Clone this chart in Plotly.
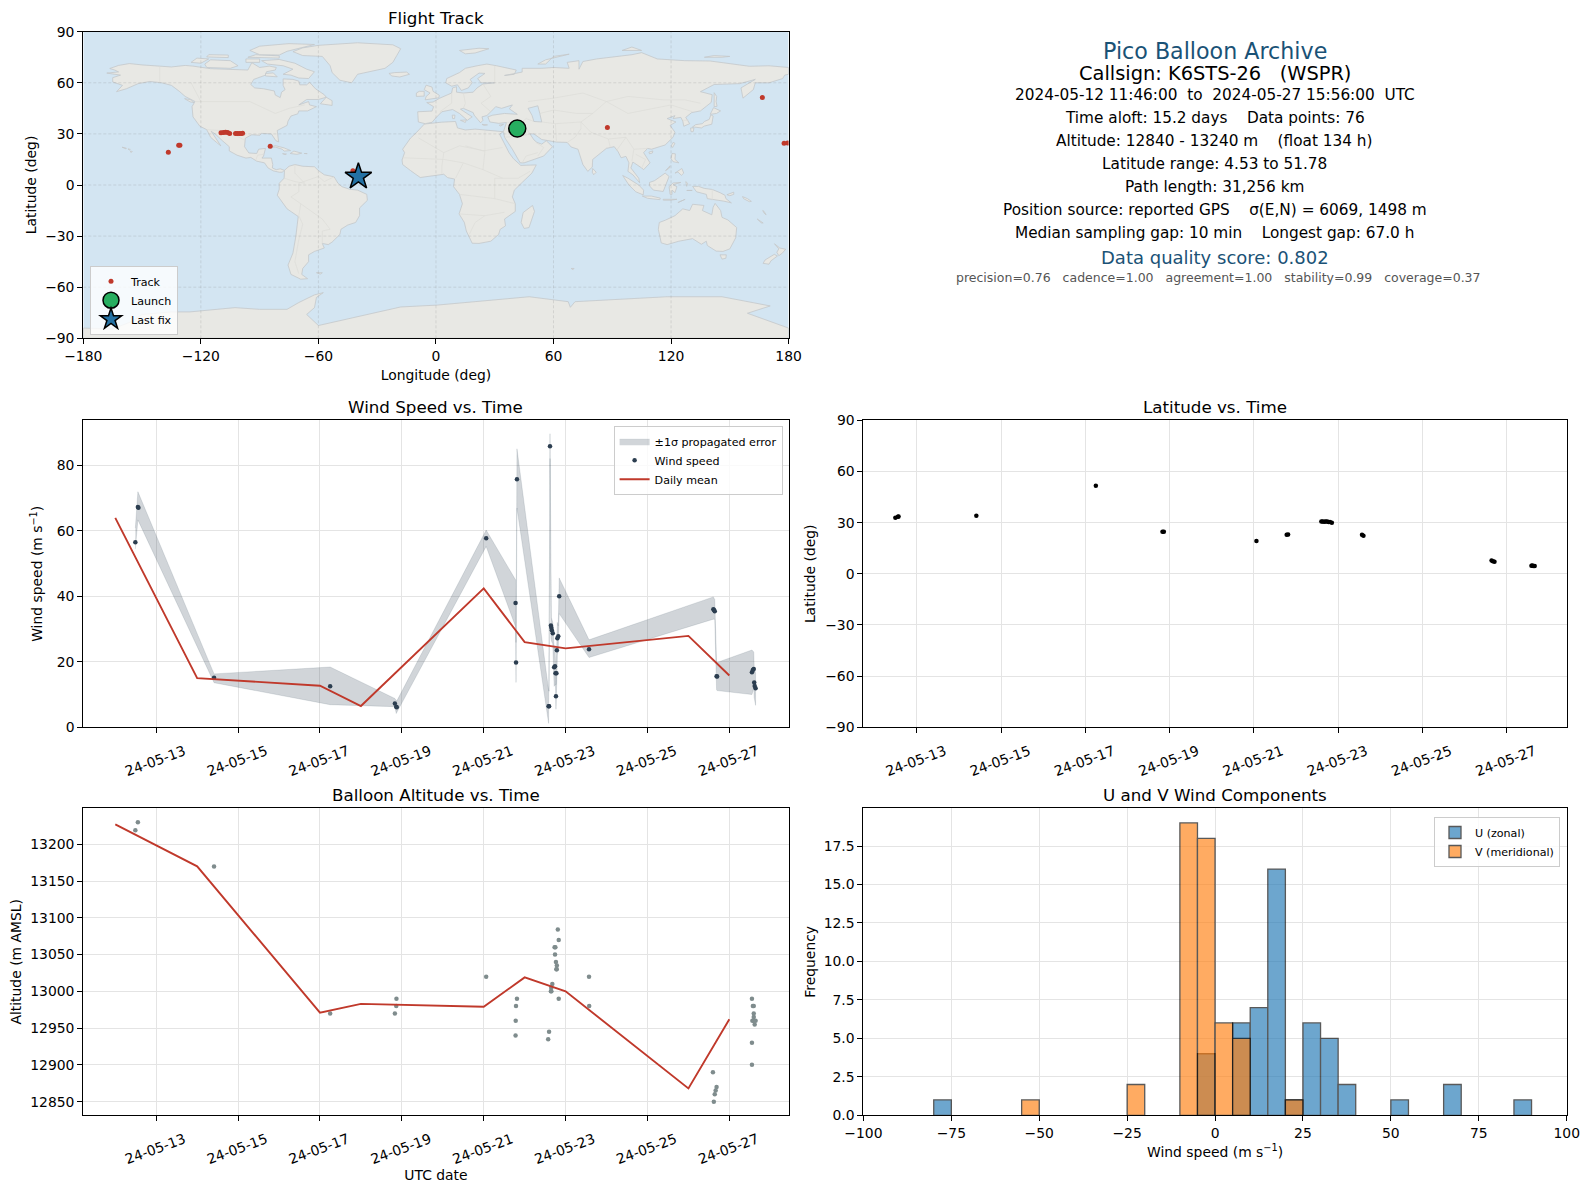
import plotly.graph_objects as go

FIG_W = 1589
FIG_H = 1189

RED = "#c0392b"
NAVY = "#2c3e50"
GRID = "#e4e4e4"
OCEAN = "#d3e5f2"
FONT = "DejaVu Sans"

# flight track
track_lon = [-136.6, -131.3, -130.7, -109.7, -108.5, -107.4, -106.3, -105.3, -102.3, -101.4,
             -100.4, -99.4, -98.7, -84.6, -42.4, 87.5, 166.6, 177.7, 179.5]
track_lat = [19.2, 23.3, 23.3, 30.7, 30.8, 30.9, 30.8, 30.3, 30.3, 30.3,
             30.3, 30.3, 30.4, 22.7, 8.3, 33.8, 51.4, 24.5, 24.7]
launch_lon = [41.5]
launch_lat = [33.2]
last_lon = [-39.6]
last_lat = [4.9]
map_xticks = [-180, -120, -60, 0, 60, 120, 180]
map_yticks = [-90, -60, -30, 0, 30, 60, 90]

# coastlines
north_america = [(-168, 65.7), (-162, 66.4), (-164, 67.5), (-166.5, 68.4), (-162, 70.2), (-156.5, 71.3), (-150, 70.5),
                 (-141, 69.7), (-135, 69.3), (-128, 70.2), (-124, 69.8), (-115, 68.3), (-108, 68), (-101, 68), (-96, 67.5),
                 (-94, 71.8), (-90, 69), (-85, 69.8), (-81.5, 69), (-82, 67.5), (-86.5, 66.5), (-87, 64.5), (-93, 62),
                 (-94.5, 59), (-92.5, 57), (-88, 56.5), (-82.5, 55.2), (-82, 52.8), (-79.5, 51.3), (-78.8, 54.5), (-77, 56),
                 (-78, 58.5), (-78, 62.3), (-73, 62), (-70, 61), (-69.5, 58.8), (-66, 58.8), (-64.5, 60.3), (-61.5, 56.5),
                 (-57, 53), (-56, 51.5), (-60, 50.2), (-66, 50.2), (-70, 47), (-65, 49), (-64.5, 47), (-61, 46), (-65.5, 43.5),
                 (-70, 43.5), (-70.5, 41.8), (-74, 40.5), (-75.5, 37.5), (-76, 35), (-81, 32), (-80.2, 27), (-80.3, 25.3),
                 (-81.7, 26), (-82.8, 28), (-84, 30), (-89, 30.3), (-90, 29.2), (-94, 29.5), (-97.3, 27.5), (-97.7, 22.5),
                 (-95.5, 18.8), (-91.5, 18.5), (-90.5, 21), (-87, 21.5), (-88, 17), (-88.8, 15.8), (-84, 15.8), (-83.3, 12),
                 (-83.5, 10), (-81.5, 9), (-79.5, 9.5), (-77.3, 8.6), (-78.5, 7.5), (-80, 7.5), (-83, 8.3), (-85.7, 10),
                 (-87.5, 13), (-91.5, 14), (-94.5, 16.2), (-97, 15.8), (-101.5, 17.5), (-105.5, 20), (-105.5, 22.5), (-109, 26),
                 (-112.7, 30), (-114.7, 31.5), (-112.8, 28), (-109.8, 23), (-112, 25), (-115, 28), (-117, 32.5), (-120.5, 34.5),
                 (-124, 40), (-124.5, 46), (-123, 49), (-128, 52), (-131, 55), (-135, 58.5), (-140, 60), (-146, 60.8),
                 (-152, 59.5), (-158, 56.5), (-163, 54.8), (-160, 58.5), (-165, 60.5), (-165, 63), (-161, 64.5), (-168, 65.7)]
baffin = [(-80, 73.7), (-72, 71.5), (-66, 68), (-62, 66.5), (-65, 62.5), (-70, 62.8), (-74, 64.5), (-78, 65), (-73, 68), (-78, 70), (-86, 71), (-89, 73), (-80, 73.7)]
victoria = [(-117, 69), (-105, 68.5), (-101, 70), (-105, 73), (-115, 73.5), (-118, 71), (-117, 69)]
banks = [(-125, 72), (-120, 71.5), (-116, 74), (-122, 74.5), (-125, 72)]
melville = [(-117, 75.2), (-106, 74.8), (-106, 76.3), (-116, 76.5), (-117, 75.2)]
somerset = [(-97, 72), (-90, 72), (-90, 74), (-97, 74), (-97, 72)]
southampton = [(-87, 64), (-81, 63.5), (-83, 65.8), (-87, 65.5), (-87, 64)]
devon = [(-96, 75), (-80, 74.5), (-80, 75.8), (-92, 76.5), (-96, 75)]
ellesmere = [(-90, 76.5), (-80, 76.3), (-76, 78.5), (-68, 81), (-62, 82.5), (-75, 83), (-90, 81.5), (-95, 79), (-90, 76.5)]
newfoundland = [(-59, 47.7), (-53, 46.7), (-53, 49.5), (-56, 51.5), (-59, 47.7)]
vancouver_isl = [(-128.3, 50.7), (-125, 50), (-123.5, 48.4), (-125.5, 48.8), (-128.3, 50.7)]
greenland = [(-73, 78.3), (-68, 80.5), (-60, 82), (-40, 83.5), (-22, 82.3), (-18, 80), (-20, 76), (-22, 72), (-26, 68.5), (-33, 66.8),
             (-40, 65), (-43, 60), (-49, 61.5), (-53, 66), (-54, 70), (-58, 75.5), (-68, 76), (-73, 78.3)]
cuba = [(-85, 21.9), (-82, 23.1), (-77.5, 21.8), (-74.2, 20.2), (-77.5, 19.9), (-78.5, 21), (-82, 22.3), (-85, 21.9)]
hispaniola = [(-74.4, 18.5), (-72.5, 19.9), (-68.5, 18.7), (-71, 18), (-74.4, 18.5)]
jamaica = [(-78.3, 18.4), (-76.3, 18.2), (-77, 17.8), (-78.3, 18.4)]
puerto_rico = [(-67.2, 18.5), (-65.7, 18.4), (-66.2, 18), (-67.2, 18.5)]
hawaii = [(-156, 19.9), (-155, 19.7), (-155.6, 19), (-156, 19.9)]
maui = [(-157.2, 21.2), (-156, 20.9), (-156.5, 20.5), (-157.2, 21.2)]
oahu = [(-160.2, 22.2), (-158, 21.6), (-158.2, 21.2), (-159.5, 21.9), (-160.2, 22.2)]
south_america = [(-77.3, 8.6), (-75, 11), (-72, 12), (-68, 11), (-62, 10.7), (-60, 8.5), (-57, 6), (-52, 4.8), (-50, 1), (-48, -1), (-44, -2.5),
                 (-40, -3), (-35.3, -5.5), (-35, -9), (-39, -13.5), (-39, -18), (-41, -22), (-45, -23.5), (-48.5, -26), (-49, -29),
                 (-53, -33.5), (-55, -35), (-58, -34.3), (-57, -37), (-62, -39), (-65, -41), (-65, -45), (-68, -49), (-68.5, -52.5),
                 (-65.5, -55), (-69, -55.3), (-74, -52.5), (-75.5, -47), (-73, -40), (-71.5, -30), (-70.3, -18.5), (-76, -14), (-81, -6),
                 (-80, -2.5), (-80, 1), (-77.5, 4), (-77.5, 7), (-77.3, 8.6)]
falklands = [(-61, -51.5), (-58, -51.5), (-59, -52.3), (-61, -51.5)]
africa = [(-5.9, 35.8), (3, 36.9), (10, 37.3), (11, 33.5), (15, 32.3), (20, 32.8), (23, 32.5), (32, 31.2), (34.3, 31.3), (32.5, 29.8),
          (35, 24), (37.3, 19), (39.5, 15.5), (43.3, 11.5), (51.2, 11.8), (49, 7), (44, 1.5), (40, -3), (39, -7), (40.5, -11),
          (40.5, -15.5), (35, -20), (35.5, -24), (32.8, -26), (32, -29), (28, -33), (22, -34.3), (18.5, -34.2), (15.5, -27), (14.5, -22),
          (11.8, -17), (13.5, -11), (12, -5.5), (9, -1), (9.5, 3.5), (6, 4.3), (4, 6.3), (-4, 5.2), (-8, 4.4), (-13, 8.5), (-17, 12),
          (-17.3, 14.7), (-16, 19), (-17, 21), (-13, 27.5), (-9.8, 31), (-5.9, 35.8)]
madagascar = [(49.3, -12), (50.3, -15.5), (47.5, -25), (45, -25.5), (43.5, -22), (44.5, -16.2), (49.3, -12)]
eurasia = [(-9, 37), (-9.3, 43), (-2, 43.4), (-1.2, 46), (-4.7, 48.4), (-1.5, 48.7), (2, 51), (4, 52), (8, 54), (8.5, 57), (10.5, 57.7),
           (10.5, 54.5), (14, 54), (19, 54.5), (21, 57), (24, 59.3), (30, 60), (23, 60), (21.3, 62.5), (25, 65.5), (22, 65.7), (17.5, 62),
           (18.5, 60), (16.5, 57), (13, 55.5), (11, 58.8), (8, 58), (5, 60), (5.5, 62.5), (12, 66), (15, 68.5), (21, 70), (26, 71), (31, 70),
           (41, 67.5), (40, 65), (35, 64.3), (44, 66.3), (44, 68.5), (54, 68.5), (60, 69), (68, 68.5), (67, 72), (73, 73), (73, 68), (75, 72.5),
           (82, 74), (100, 76.5), (105, 77.7), (113, 74), (127, 73), (140, 72.8), (160, 69.7), (170, 70), (180, 69), (180, 65), (178, 64.5),
           (177, 62.5), (170, 60), (163, 60), (162, 56), (156.7, 51), (155.7, 57), (163, 62), (155, 59.5), (142, 59), (135, 54.8), (141, 53),
           (140.5, 48.5), (135, 43.5), (130.5, 42.5), (127.5, 39.7), (129.5, 36), (126.5, 34.5), (126, 37.5), (125, 39.7), (121, 39), (122, 40.7),
           (118, 39), (122.5, 37), (119.5, 35), (122, 31), (121, 28), (117, 23.5), (110, 21), (108, 21.5), (106, 19), (109.3, 13), (106, 9),
           (105, 10), (100.5, 13.5), (99.5, 10), (103.5, 4), (104, 1.3), (100.5, 6), (98, 8), (98.5, 13), (97, 16.8), (94.5, 16), (93, 19.5),
           (91, 22.5), (87, 21.5), (82.5, 17), (80, 15), (79.8, 10.5), (77.5, 8), (75, 12), (72.8, 19), (72.5, 21), (69, 22.3), (67, 25),
           (61.5, 25.2), (57, 26), (54, 26.7), (50, 30), (48, 30), (50, 26.5), (51.5, 25), (54, 24), (56.3, 26), (59.5, 22.5), (55, 17), (45, 13),
           (43, 13), (39, 21), (35, 28), (34.5, 31.5), (36, 36.7), (32, 36.2), (27.5, 37), (26.5, 40), (29, 41), (35, 42), (41.5, 41.5),
           (37.5, 44.7), (39, 47), (33.5, 45), (30.5, 46), (28, 43), (26, 40.8), (23.5, 40), (24, 38), (22.8, 36.5), (19.5, 41), (19, 42.5),
           (14, 45), (12.5, 44.5), (18.5, 40), (16, 38), (12, 42), (8.5, 44.3), (3, 43), (0, 39.5), (-2, 36.8), (-5.5, 36), (-9, 37)]
great_britain = [(-5.5, 50), (1.5, 51.2), (1.7, 52.7), (-1.5, 55), (-2, 57.5), (-5, 58.6), (-6, 56), (-3, 54), (-5, 52), (-5.5, 50)]
ireland = [(-10, 52), (-6, 52.2), (-6, 55), (-8.5, 55), (-10, 54), (-10, 52)]
iceland = [(-24, 65.5), (-21, 66), (-15, 66.3), (-13.5, 65), (-18.5, 63.4), (-22.5, 64), (-24, 65.5)]
svalbard = [(12, 79), (22, 80.3), (27, 80), (20, 77.5), (15, 77), (12, 79)]
novaya_zemlya = [(52, 71), (56, 73.5), (68, 76.8), (60, 75.5), (56, 71), (52, 71)]
severnaya = [(95, 79), (105, 79), (100, 81), (95, 79)]
new_siberia = [(137, 75), (146, 75), (150, 75.5), (142, 76), (137, 75)]
sicily = [(12.5, 38), (15.5, 38.2), (15, 36.7), (12.5, 38)]
sardinia = [(8.3, 41), (9.7, 41), (9.5, 39), (8.5, 39), (8.3, 41)]
crete = [(23.5, 35.6), (26.3, 35.3), (24.5, 35), (23.5, 35.6)]
cyprus = [(32.3, 35.1), (34.5, 35.6), (33, 34.6), (32.3, 35.1)]
sri_lanka = [(80, 9.7), (81.8, 7.5), (80.5, 6), (79.8, 7.5), (80, 9.7)]
hainan = [(108.7, 19.3), (110.7, 20), (110.5, 18.8), (109, 18.3), (108.7, 19.3)]
honshu = [(130.9, 34), (132.5, 35.4), (136, 36), (137, 37.3), (139.5, 38.5), (140.3, 41.2), (141.5, 40.5), (141, 37.5), (140.8, 35.7), (137, 34.6), (135.5, 33.5), (132, 34), (130.9, 34)]
kyushu = [(130, 33.5), (131.7, 33.5), (131.3, 31.3), (130.2, 31.3), (130, 33.5)]
hokkaido = [(140, 41.5), (141.7, 45.4), (145.3, 43.5), (143.2, 42), (140, 41.5)]
sakhalin = [(142, 54.2), (143.3, 52), (143, 49), (143.5, 46.2), (142, 46), (142, 50), (142, 54.2)]
taiwan = [(121, 25), (122, 24.5), (120.8, 22), (120.1, 23), (121, 25)]
luzon = [(120.5, 18.5), (122.2, 18.3), (122, 15), (124, 13), (121, 13.7), (120, 15.5), (120.5, 18.5)]
mindanao = [(122, 7), (125.5, 9.7), (126.5, 7), (125.3, 5.7), (123.5, 7.6), (122, 7)]
palawan = [(117.2, 8.4), (119.5, 11.3), (119.2, 10), (117.5, 8.2), (117.2, 8.4)]
borneo = [(109, 1.5), (111.5, 2.5), (114, 4.5), (117, 7), (119, 5), (117.8, 1), (116, -3.8), (111, -3), (109, -0.5), (109, 1.5)]
sumatra = [(95.3, 5.6), (98, 4), (103.5, 0), (106, -3), (105.8, -5.8), (102, -4), (98.5, 0), (95.3, 5.6)]
java = [(105.3, -6.5), (110, -6.5), (114.5, -7.7), (114.3, -8.6), (108, -7.8), (105.3, -6.5)]
flores = [(116, -8.4), (120, -8.3), (123, -8.4), (120, -8.9), (116, -8.9), (116, -8.4)]
timor = [(123.5, -10.3), (127.2, -8.4), (125, -9.2), (123.5, -10.3)]
halmahera = [(127.5, 2), (128.5, 1), (128, -0.8), (127.5, 2)]
seram = [(128, -3.2), (130.8, -3.2), (129.5, -3.5), (128, -3.2)]
sulawesi = [(119.5, -5.5), (119, -1), (121, 1.2), (125, 1.5), (121, 0.2), (123, -1), (122, -4.5), (120.5, -3), (120.5, -5.5), (119.5, -5.5)]
new_guinea = [(131, -0.8), (134, -0.8), (137, -2), (141, -2.6), (145, -4.5), (147.5, -6), (148, -8), (150.8, -10.5), (147, -9.5), (143, -8.8), (138.5, -8), (138, -5.5), (133, -4), (131, -0.8)]
new_britain = [(148.5, -5.7), (152, -4.2), (152, -5.5), (150, -6.3), (148.5, -5.7)]
solomons = [(156.5, -6.8), (159, -8), (161, -9.6), (160, -9.8), (157, -8), (156.5, -6.8)]
vanuatu = [(166.8, -15), (167.5, -15.5), (168.5, -17.5), (167.5, -16.5), (166.8, -15)]
new_caledonia = [(164, -20), (167, -22.3), (166, -22.2), (164, -20)]
australia = [(114, -22), (113.5, -26), (115, -34), (118, -35), (124, -33), (131, -31.5), (135.5, -34.8), (138, -33), (138.5, -35.5), (143, -38.8),
             (146.5, -39), (150, -37.5), (153, -31), (153.5, -25), (149, -20.5), (146, -19), (145.3, -15), (142.5, -10.8), (141.5, -13), (140.8, -17.5),
             (136, -15), (136.8, -12), (131, -11.3), (129.5, -15), (126, -14), (122, -18), (117, -20.7), (114, -22)]
tasmania = [(145, -41), (148.2, -41), (148, -43), (146, -43.5), (145, -41)]
nz_north = [(172.8, -34.5), (175.5, -37), (178.5, -37.7), (176.8, -40), (175, -41.5), (174, -39.5), (175, -37.5), (172.8, -34.5)]
nz_south = [(172.7, -40.7), (174.3, -41.7), (171, -44.5), (170, -46.5), (167, -46), (168, -44), (172.7, -40.7)]
kerguelen = [(69, -49), (70.5, -49), (70, -49.7), (69, -49)]
antarctica = [(-180, -90), (-180, -84), (-165, -84.5), (-155, -80), (-150, -76), (-135, -74.5), (-125.6, -74.5), (-102.6, -72), (-90, -73), (-76, -73),
              (-70, -69), (-62, -64.5), (-57.5, -63.2), (-61, -66), (-62, -72), (-66, -76), (-60, -82.5), (-37, -76.4), (-18, -71.6), (0.7, -70.5),
              (47.6, -65.6), (67.5, -68.5), (68.6, -71.8), (71, -68.5), (118, -65.6), (146, -65.6), (170.6, -71), (159, -75.3), (180, -84), (180, -90), (-180, -90)]
caspian = [(47, 45), (52, 46.5), (53, 42), (54, 37), (50, 37.3), (49, 41), (47, 45)]

land_shapes = [north_america, baffin, victoria, banks, melville, somerset, southampton, devon, ellesmere, newfoundland, vancouver_isl, greenland,
               cuba, hispaniola, jamaica, puerto_rico, hawaii, maui, oahu, south_america, falklands, africa, madagascar, eurasia, great_britain,
               ireland, iceland, svalbard, novaya_zemlya, severnaya, new_siberia, sicily, sardinia, crete, cyprus, sri_lanka, hainan, honshu, kyushu,
               hokkaido, sakhalin, taiwan, luzon, mindanao, palawan, borneo, sumatra, java, flores, timor, halmahera, seram, sulawesi, new_guinea,
               new_britain, solomons, vanuatu, new_caledonia, australia, tasmania, nz_north, nz_south, kerguelen, antarctica]

# a few land borders, these are very faint in the picture
borders = [[(-141, 69.7), (-141, 60)], [(-123, 49), (-95, 49), (-82, 42), (-75, 45), (-67, 47)], [(-117, 32.5), (-106, 31.7), (-97.3, 26)],
           [(-92, 14.5), (-91, 17.5), (-88, 18)], [(-70, -18), (-69, -11), (-74, -7), (-70, -4), (-70, 1), (-60, 5), (-57, 2), (-52, 4.8)],
           [(-70, -18), (-68, -23), (-70, -32), (-72, -45), (-70, -52)], [(-58, -34.3), (-58, -27), (-54, -26), (-58, -20), (-69, -11)],
           [(-77.5, 4), (-72, 2), (-67, 1), (-72, 7), (-72, 12)], [(-9, 27.7), (4, 19), (12, 23), (25, 20), (25, 32)], [(25, 20), (24, 9), (34, 4), (42, 4), (48, 8)],
           [(34, 22), (24, 20), (15, 23)], [(4, 19), (3, 11), (3, 6.5)], [(-17, 16), (4, 15), (14, 13), (24, 9)], [(14, 13), (10, 4)], [(12, -5.5), (30, -8), (40.5, -11)],
           [(12, -17), (25, -18), (35, -16)], [(17, -29), (20, -22), (25, -18)], [(30, -8), (30, 4), (34, 4)], [(2, 43), (8, 48), (8, 54)], [(14, 54), (15, 48), (14, 45)],
           [(24, 59.3), (28, 52), (23, 48), (28, 43)], [(30, 70), (30, 60)], [(36, 36.7), (44, 37), (48, 30)], [(44, 37), (46, 39), (50, 37.3)],
           [(61.5, 25.2), (61, 36), (54, 37)], [(61, 36), (74, 37), (80, 42), (87, 49), (98, 42), (120, 47), (131, 43)], [(53, 42), (60, 44), (72, 42), (80, 42)],
           [(47, 49), (60, 51), (75, 54), (87, 49)], [(87, 49), (98, 52), (116, 50), (127, 50), (135, 48)], [(74, 37), (79, 31), (88, 27), (97, 28), (101, 21), (108, 21.5)],
           [(67, 25), (71, 28), (74, 33), (74, 37)], [(88, 27), (89, 22)], [(97, 28), (94, 23), (92, 20)], [(101, 21), (100, 14)], [(102, 18), (107, 15), (105, 10)],
           [(35, 28), (45, 29), (48, 30)], [(52, 17), (55, 22), (51, 25)], [(44, 13), (46, 17), (52, 19)], [(126, 38), (129, 38)], [(141, -2.6), (141, -9)], [(-125, 60), (-120, 49)]]

# wind speed panel
wind_time = ["2024-05-12 11:46", "2024-05-12 13:15", "2024-05-12 13:35", "2024-05-14 09:54", "2024-05-17 05:58", "2024-05-18 19:55", "2024-05-18 20:43",
             "2024-05-18 21:00", "2024-05-21 01:26", "2024-05-21 18:40", "2024-05-21 18:56", "2024-05-21 19:29", "2024-05-22 14:02", "2024-05-22 14:20",
             "2024-05-22 14:51", "2024-05-22 15:23", "2024-05-22 15:39", "2024-05-22 15:56", "2024-05-22 16:28", "2024-05-22 17:17", "2024-05-22 17:48",
             "2024-05-22 18:04", "2024-05-22 18:21", "2024-05-22 18:37", "2024-05-22 18:53", "2024-05-22 19:10", "2024-05-22 19:42", "2024-05-22 20:14",
             "2024-05-23 13:44", "2024-05-26 14:38", "2024-05-26 15:00", "2024-05-26 15:26", "2024-05-26 16:31", "2024-05-26 16:50", "2024-05-27 13:15",
             "2024-05-27 13:47", "2024-05-27 14:18", "2024-05-27 14:35", "2024-05-27 14:51", "2024-05-27 15:23"]
wind_speed = [56.5, 67.2, 67.0, 15.1, 12.5, 7.3, 6.3, 6.1, 57.7, 37.9, 19.8, 75.7, 6.4, 6.4, 85.8, 31.1, 30.4, 29.6, 28.7, 18.3, 18.6, 16.5, 9.5, 16.5,
              23.5, 27.2, 27.8, 40.0, 23.8, 36.0, 35.8, 35.4, 15.6, 15.5, 16.8, 17.5, 17.8, 13.7, 12.6, 11.9]
wind_upper = [60.8, 71.9, 71.5, 16.3, 18.4, 8.8, 8.1, 8.0, 60.2, 45.0, 25.9, 85.0, 11.4, 11.0, 89.6, 34.8, 33.5, 33.0, 32.0, 24.0, 25.0, 20.0, 13.0, 21.0,
              32.0, 32.0, 31.0, 45.6, 26.7, 39.8, 39.4, 39.0, 19.9, 19.8, 23.6, 23.3, 23.0, 18.3, 17.0, 16.5]
wind_lower = [54.4, 63.3, 63.0, 13.6, 6.9, 6.3, 4.2, 4.5, 55.2, 30.7, 13.7, 66.9, 1.2, 1.6, 82.0, 27.2, 27.0, 26.0, 25.5, 12.5, 13.0, 13.0, 5.5, 12.0,
              15.0, 22.0, 24.0, 34.7, 21.3, 33.0, 33.0, 33.0, 11.4, 11.2, 10.0, 11.0, 12.0, 9.0, 8.0, 6.7]

daily_time = ["2024-05-12", "2024-05-14", "2024-05-17", "2024-05-18", "2024-05-21", "2024-05-22", "2024-05-23", "2024-05-26", "2024-05-27"]
daily_wind = [63.9, 15.0, 12.7, 6.5, 42.4, 26.0, 24.1, 27.9, 15.8]
daily_alt = [13227, 13170, 12971, 12983, 12979, 13019, 13000, 12868, 12962]

# latitude panel
lat_time = ["2024-05-12 11:46", "2024-05-12 13:15", "2024-05-12 13:35", "2024-05-14 09:54", "2024-05-17 05:58", "2024-05-18 19:55", "2024-05-18 20:43",
            "2024-05-21 01:26", "2024-05-21 18:40", "2024-05-21 19:29", "2024-05-22 14:24", "2024-05-22 15:10", "2024-05-22 16:00", "2024-05-22 16:50",
            "2024-05-22 17:40", "2024-05-22 18:30", "2024-05-22 19:20", "2024-05-22 20:24", "2024-05-23 13:34", "2024-05-23 14:24", "2024-05-26 15:22",
            "2024-05-26 16:10", "2024-05-26 17:02", "2024-05-27 14:05", "2024-05-27 14:35", "2024-05-27 15:07", "2024-05-27 15:56"]
latitude = [32.8, 33.4, 33.6, 34.0, 51.6, 24.7, 24.6, 19.3, 22.9, 23.0, 30.6, 30.6, 30.5, 30.6, 30.6, 30.4, 30.3, 29.9, 22.9, 22.3, 7.8, 7.4, 7.0, 4.7, 4.8, 4.6, 4.53]

# altitude panel
alt_time = ["2024-05-12 11:46", "2024-05-12 13:15", "2024-05-14 09:54", "2024-05-17 05:58", "2024-05-18 19:55", "2024-05-18 20:43", "2024-05-18 20:50",
            "2024-05-21 01:26", "2024-05-21 18:40", "2024-05-21 18:45", "2024-05-21 18:56", "2024-05-21 19:29", "2024-05-22 13:47", "2024-05-22 14:18",
            "2024-05-22 15:23", "2024-05-22 15:39", "2024-05-22 15:35", "2024-05-22 16:12", "2024-05-22 17:33", "2024-05-22 18:00", "2024-05-22 17:48",
            "2024-05-22 18:21", "2024-05-22 18:53", "2024-05-22 18:37", "2024-05-22 18:45", "2024-05-22 19:26", "2024-05-22 19:58", "2024-05-22 19:58",
            "2024-05-23 13:44", "2024-05-23 13:50", "2024-05-26 14:22", "2024-05-26 14:54", "2024-05-26 15:26", "2024-05-26 15:58", "2024-05-26 16:31",
            "2024-05-27 13:15", "2024-05-27 13:47", "2024-05-27 14:18", "2024-05-27 14:18", "2024-05-27 14:18", "2024-05-27 13:30", "2024-05-27 14:18",
            "2024-05-27 15:23", "2024-05-27 14:51", "2024-05-27 13:15", "2024-05-27 13:15"]
altitude = [13219, 13230, 13170, 12970, 12970, 12980, 12990, 13020, 12940, 12960, 12980, 12990, 12935, 12945, 13000, 13000, 13005, 13010, 13060, 13060,
            13050, 13040, 13035, 13030, 13030, 13084, 13070, 12990, 13020, 12980, 12890, 12850, 12860, 12865, 12870, 12990, 12980, 12980, 12970, 12965,
            12960, 12960, 12960, 12955, 12930, 12900]

date_ticks = ["2024-05-13", "2024-05-15", "2024-05-17", "2024-05-19", "2024-05-21", "2024-05-23", "2024-05-25", "2024-05-27"]
date_labels = ["24-05-13", "24-05-15", "24-05-17", "24-05-19", "24-05-21", "24-05-23", "24-05-25", "24-05-27"]

# histogram, left bin edges and counts (5 m/s bins)
u_bins = [-80, -5, 5, 10, 15, 20, 25, 30, 35, 50, 65, 85]
u_counts = [1, 4, 6, 7, 16, 1, 6, 5, 2, 1, 2, 1]
v_bins = [-55, -25, -10, -5, 0, 5, 20]
v_counts = [1, 2, 19, 18, 6, 5, 1]
bin_width = 5

# text panel
info_text = [
    "Pico Balloon Archive",
    "Callsign: K6STS-26   (WSPR)",
    "2024-05-12 11:46:00  to  2024-05-27 15:56:00  UTC",
    "Time aloft: 15.2 days    Data points: 76",
    "Altitude: 12840 - 13240 m    (float 134 h)",
    "Latitude range: 4.53 to 51.78",
    "Path length: 31,256 km",
    "Position source: reported GPS    σ(E,N) = 6069, 1498 m",
    "Median sampling gap: 10 min    Longest gap: 67.0 h",
    "Data quality score: 0.802",
    "precision=0.76   cadence=1.00   agreement=1.00   stability=0.99   coverage=0.37",
]
INFO_SIZE = [22.2, 19.4, 15.3, 15.3, 15.3, 15.3, 15.3, 15.3, 15.3, 18.0, 12.5]
INFO_COLOR = ["#1a5276", "black", "black", "black", "black", "black", "black", "black", "black", "#1a5276", "#555555"]
INFO_Y = [51, 73.5, 95, 118, 141, 164, 187, 210, 233, 257, 278]
INFO_X = [1214.6, 1214.6, 1214.6, 1214.6, 1214.6, 1214.6, 1214.6, 1214.6, 1214.6, 1214.6, 1218]

# axes boxes in page pixels: left, right, top, bottom
LEFT = (83.3, 788.6)
RIGHT = (863.4, 1566.7)
ROW1 = (31.7, 338.3)
ROW2 = (420.3, 727.3)
ROW3 = (808.3, 1115.3)


def dom_x(box):
    return [box[0] / FIG_W, box[1] / FIG_W]


def dom_y(box):
    return [1 - box[1] / FIG_H, 1 - box[0] / FIG_H]


def axis(domain, **extra):
    ax = dict(domain=domain, automargin=False, showline=True, mirror=True, linecolor="black", linewidth=1.1, ticks="outside", ticklen=5,
              tickwidth=1, tickcolor="black", zeroline=False, showgrid=True, gridcolor=GRID, gridwidth=1,
              tickfont=dict(size=13.9, color="black"))
    ax.update(extra)
    return ax


def time_axis(domain, anchor, rng, title=None):
    ax = axis(domain, anchor=anchor, type="date", range=rng, tickmode="array", tickvals=date_ticks, ticktext=date_labels,
              tickangle=-20, ticklabelshift=28, ticklabelstandoff=5)
    if title:
        ax["title"] = dict(text=title, font=dict(size=13.9), standoff=0)
    return ax


def y_title(text, standoff):
    return dict(text=text, font=dict(size=13.9), standoff=standoff)


def legend_style(**extra):
    return dict(bgcolor="rgba(255,255,255,0.8)", bordercolor="#cccccc", borderwidth=1, font=dict(size=11.1), **extra)


fig = go.Figure()

# map
for shape in land_shapes:
    fig.add_trace(go.Scatter(x=[p[0] for p in shape], y=[p[1] for p in shape], mode="lines", fill="toself", fillcolor="#e8e8e4",
                             line=dict(color="#c4c8ca", width=0.8), xaxis="x", yaxis="y", showlegend=False, hoverinfo="skip"))
border_x, border_y = [], []
for line in borders:
    border_x += [p[0] for p in line] + [None]
    border_y += [p[1] for p in line] + [None]
fig.add_trace(go.Scatter(x=border_x, y=border_y, mode="lines", line=dict(color="#dcdcd8", width=0.7), xaxis="x", yaxis="y",
                         showlegend=False, hoverinfo="skip"))
fig.add_trace(go.Scatter(x=[p[0] for p in caspian], y=[p[1] for p in caspian], mode="lines", fill="toself", fillcolor=OCEAN,
                         line=dict(color="#c4c8ca", width=0.8), xaxis="x", yaxis="y", showlegend=False, hoverinfo="skip"))
# map grid sits on top of the land
grid_x, grid_y = [], []
for v in map_xticks[1:-1]:
    grid_x += [v, v, None]
    grid_y += [-90, 90, None]
for v in map_yticks[1:-1]:
    grid_x += [-180, 180, None]
    grid_y += [v, v, None]
fig.add_trace(go.Scatter(x=grid_x, y=grid_y, mode="lines", line=dict(color="rgba(128,128,128,0.3)", width=0.7, dash="3px,2px"), xaxis="x", yaxis="y",
                         showlegend=False, hoverinfo="skip"))
fig.add_trace(go.Scatter(x=track_lon, y=track_lat, mode="markers", name="Track", marker=dict(color=RED, size=5), xaxis="x", yaxis="y", legend="legend"))
fig.add_trace(go.Scatter(x=launch_lon, y=launch_lat, mode="markers", name="Launch", xaxis="x", yaxis="y", legend="legend",
                         marker=dict(color="#27ae60", size=17, line=dict(color="black", width=1.5))))
fig.add_trace(go.Scatter(x=last_lon, y=last_lat, mode="markers", name="Last fix", xaxis="x", yaxis="y", legend="legend",
                         marker=dict(color="#2471a3", size=20, symbol="star", line=dict(color="black", width=1.5))))

# wind speed
fig.add_trace(go.Scatter(x=wind_time + wind_time[::-1], y=wind_upper + wind_lower[::-1], mode="lines", fill="toself", name="±1σ propagated error",
                         fillcolor="rgba(44,62,80,0.22)", line=dict(color="rgba(44,62,80,0.12)", width=1), xaxis="x2", yaxis="y2", legend="legend2"))
fig.add_trace(go.Scatter(x=wind_time, y=wind_speed, mode="markers", name="Wind speed", marker=dict(color=NAVY, size=4.5), xaxis="x2", yaxis="y2", legend="legend2"))
fig.add_trace(go.Scatter(x=daily_time, y=daily_wind, mode="lines", name="Daily mean", line=dict(color=RED, width=1.9), xaxis="x2", yaxis="y2", legend="legend2"))

# latitude
fig.add_trace(go.Scatter(x=lat_time, y=latitude, mode="markers", marker=dict(color="black", size=4.5), xaxis="x3", yaxis="y3", showlegend=False))

# altitude
fig.add_trace(go.Scatter(x=alt_time, y=altitude, mode="markers", marker=dict(color="#7f8c8d", size=4.5), xaxis="x4", yaxis="y4", showlegend=False))
fig.add_trace(go.Scatter(x=daily_time, y=daily_alt, mode="lines", line=dict(color=RED, width=1.9), xaxis="x4", yaxis="y4", showlegend=False))

# histogram
fig.add_trace(go.Bar(x=[b + bin_width / 2 for b in u_bins], y=u_counts, width=bin_width, name="U (zonal)", opacity=0.65,
                     marker=dict(color="#1f77b4", line=dict(color="black", width=1.3)), xaxis="x5", yaxis="y5", legend="legend3"))
fig.add_trace(go.Bar(x=[b + bin_width / 2 for b in v_bins], y=v_counts, width=bin_width, name="V (meridional)", opacity=0.65,
                     marker=dict(color="#ff7f0e", line=dict(color="black", width=1.3)), xaxis="x5", yaxis="y5", legend="legend3"))

annotations = []
titles = [("Flight Track", LEFT, ROW1), ("Wind Speed vs. Time", LEFT, ROW2), ("Latitude vs. Time", RIGHT, ROW2),
          ("Balloon Altitude vs. Time", LEFT, ROW3), ("U and V Wind Components", RIGHT, ROW3)]
for text, xbox, ybox in titles:
    annotations.append(dict(text=text, x=(xbox[0] + xbox[1]) / 2 / FIG_W, y=1 - (ybox[0] - 1.5) / FIG_H, xref="paper", yref="paper",
                            xanchor="center", yanchor="bottom", showarrow=False, font=dict(size=16.7, color="black")))
for text, size, color, xpx, ypx in zip(info_text, INFO_SIZE, INFO_COLOR, INFO_X, INFO_Y):
    annotations.append(dict(text=text, x=xpx / FIG_W, y=1 - ypx / FIG_H, xref="paper", yref="paper", xanchor="center", yanchor="middle",
                            showarrow=False, font=dict(size=size, color=color)))

fig.update_layout(
    width=FIG_W,
    height=FIG_H,
    autosize=False,
    margin=dict(l=0, r=0, t=0, b=0),
    paper_bgcolor="white",
    plot_bgcolor="white",
    font=dict(family=FONT, color="black"),
    barmode="overlay",
    annotations=annotations,
    shapes=[dict(type="rect", xref="x", yref="y", x0=-180, x1=180, y0=-90, y1=90, fillcolor=OCEAN, line_width=0, layer="below")],
    xaxis=axis(dom_x(LEFT), anchor="y", range=[-180, 180], tickmode="array", tickvals=map_xticks, showgrid=False,
               title=dict(text="Longitude (deg)", font=dict(size=13.9), standoff=7)),
    yaxis=axis(dom_y(ROW1), anchor="x", range=[-90, 90], tickmode="array", tickvals=map_yticks, showgrid=False,
               title=y_title("Latitude (deg)", 5)),
    xaxis2=time_axis(dom_x(LEFT), "y2", ["2024-05-11 05:15", "2024-05-28 10:44"]),
    yaxis2=axis(dom_y(ROW2), anchor="x2", range=[0, 93.7], tickmode="array", tickvals=[0, 20, 40, 60, 80],
                title=y_title("Wind speed (m s<sup>−1</sup>)", 10)),
    xaxis3=time_axis(dom_x(RIGHT), "y3", ["2024-05-11 17:34", "2024-05-28 10:10"]),
    yaxis3=axis(dom_y(ROW2), anchor="x3", range=[-90, 90], tickmode="array", tickvals=map_yticks,
                title=y_title("Latitude (deg)", 6)),
    xaxis4=time_axis(dom_x(LEFT), "y4", ["2024-05-11 05:15", "2024-05-28 10:44"], title="UTC date"),
    yaxis4=axis(dom_y(ROW3), anchor="x4", range=[12831.4, 13249], tickmode="array", tickvals=[12850, 12900, 12950, 13000, 13050, 13100, 13150, 13200],
                tickformat="d", title=y_title("Altitude (m AMSL)", 5)),
    xaxis5=axis(dom_x(RIGHT), anchor="y5", range=[-100, 100], tickmode="array", tickvals=[-100, -75, -50, -25, 0, 25, 50, 75, 100],
                title=dict(text="Wind speed (m s<sup>−1</sup>)", font=dict(size=13.9), standoff=7)),
    yaxis5=axis(dom_y(ROW3), anchor="x5", range=[0, 19.95], tickmode="array", tickvals=[0, 2.5, 5, 7.5, 10, 12.5, 15, 17.5], tickformat=".1f",
                title=y_title("Frequency", 4)),
    legend=legend_style(x=90 / FIG_W, y=1 - 334.7 / FIG_H, xanchor="left", yanchor="bottom"),
    legend2=legend_style(x=782.6 / FIG_W, y=1 - 425.7 / FIG_H, xanchor="right", yanchor="top"),
    legend3=legend_style(x=1560 / FIG_W, y=1 - 817 / FIG_H, xanchor="right", yanchor="top"),
)

fig.write_html("out.html", config={"displayModeBar": False}, post_script="document.body.style.margin='0'")
